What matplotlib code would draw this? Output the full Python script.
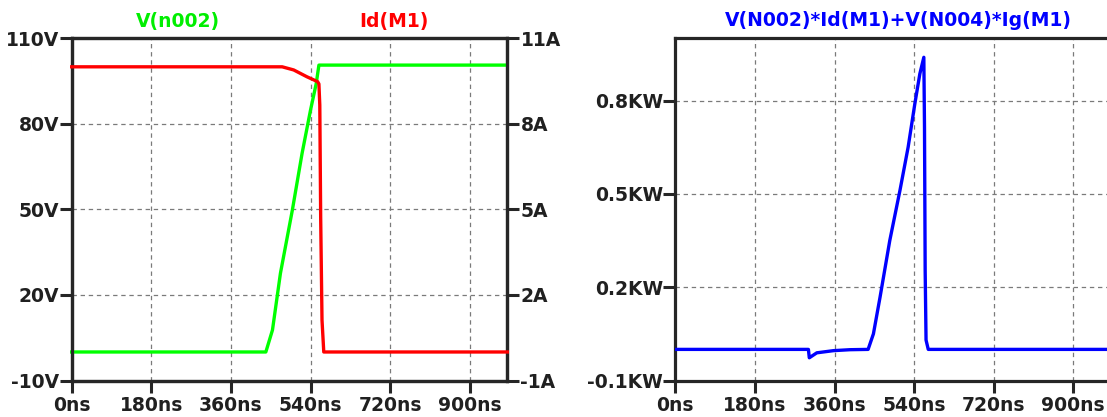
import matplotlib
matplotlib.use("Agg")
import matplotlib.pyplot as plt

# %% ----------- data ------------------------------------
x_ticks = [0, 180, 360, 540, 720, 900]
x_labels = ["0ns", "180ns", "360ns", "540ns", "720ns", "900ns"]

# V(n002) in volts
t_v = [0, 439, 454, 472, 499, 521, 540, 553, 559, 985]
v_n002 = [0, 0, 7.7, 27.6, 49.8, 69.7, 84.8, 94.2, 100.6, 100.6]

# Id(M1) in amps
t_id = [0, 476, 502, 532, 556, 559, 561, 563, 566, 570, 985]
id_m1 = [10, 10, 9.89, 9.65, 9.48, 9.4, 8.66, 4.71, 1.12, 0, 0]

# power in kW
t_p = [0, 301, 303, 320, 358, 395, 436, 448, 463, 485, 508, 526.5,
       541.6, 553, 562, 563.5, 565, 567, 572, 985]
p_kw = [0, 0, -0.027, -0.011, -0.004, -0.001, 0, 0.050, 0.168, 0.350,
        0.511, 0.650, 0.789, 0.886, 0.939, 0.714, 0.254, 0.03, 0, 0]

v_ticks = [-10, 20, 50, 80, 110]
v_labels = ["-10V", "20V", "50V", "80V", "110V"]
a_ticks = [-1, 2, 5, 8, 11]
a_labels = ["-1A", "2A", "5A", "8A", "11A"]
p_ticks = [-0.1, 0.2, 0.5, 0.8]
p_labels = ["-0.1KW", "0.2KW", "0.5KW", "0.8KW"]

# %% ----------- style -------------
W, H = 1107, 417
plt.rcParams['font.family'] = ['DejaVu Sans']
FS = 13.5
SPINE = '#262626'
LW = 2.4


def style_axes(ax):
    for s in ax.spines.values():
        s.set_linewidth(2.3)
        s.set_color(SPINE)
    ax.tick_params(axis='both', direction='out', length=8.5, width=2.2,
                   color=SPINE, labelsize=FS, labelcolor='#202020')
    ax.tick_params(axis='x', pad=3)
    ax.tick_params(axis='y', pad=0.5)
    for lab in ax.get_xticklabels() + ax.get_yticklabels():
        lab.set_fontweight('bold')


def add_grid(ax, yvals):
    for xv in x_ticks[1:]:
        ax.axvline(xv, color='#7a7a7a', lw=0.9, ls=(0, (3.5, 3)), zorder=0)
    for yv in yvals:
        ax.axhline(yv, color='#7a7a7a', lw=0.9, ls=(0, (3.5, 3)), zorder=0)


fig = plt.figure(figsize=(W / 100, H / 100), dpi=100)

# %% ----------- left panel -------------
ax1 = fig.add_axes([71.7 / W, 1 - 380.5 / H, 435.6 / W, 342.2 / H])
ax1.set_xlim(0, 985)
ax1.set_ylim(-10, 110)
ax1.set_xticks(x_ticks, x_labels)
ax1.set_yticks(v_ticks, v_labels)
add_grid(ax1, v_ticks[1:-1])
ax1.plot(t_v, v_n002, color='#00ff00', lw=LW, zorder=3, clip_on=False)

ax2 = ax1.twinx()
ax2.set_ylim(-1, 11)
ax2.set_yticks(a_ticks, a_labels)
ax2.plot(t_id, id_m1, color='#ff0000', lw=LW, zorder=3, clip_on=False)
style_axes(ax1)
style_axes(ax2)
ax2.tick_params(axis='y', pad=1)

# %% ----------- right panel -------------
ax3 = fig.add_axes([675.3 / W, 1 - 380.5 / H, 435.6 / W, 342.2 / H])
ax3.set_xlim(0, 985)
ax3.set_ylim(-0.1, 1.0)
ax3.set_xticks(x_ticks, x_labels)
ax3.set_yticks(p_ticks, p_labels)
add_grid(ax3, p_ticks[1:])
ax3.plot(t_p, p_kw, color='#0000ff', lw=LW, zorder=3)
style_axes(ax3)

# %% ----------- trace names -------------
ty = 1 - 21 / H
fig.text(178 / W, ty, "V(n002)", color='#00ee00', fontsize=FS,
         fontweight='bold', ha='center', va='center')
fig.text(394 / W, ty, "Id(M1)", color='#ff0000', fontsize=FS,
         fontweight='bold', ha='center', va='center')
fig.text(898 / W, ty, "V(N002)*Id(M1)+V(N004)*Ig(M1)", color='#0000ff',
         fontsize=FS, fontweight='bold', ha='center', va='center')

fig.savefig("out.png", dpi=100)
